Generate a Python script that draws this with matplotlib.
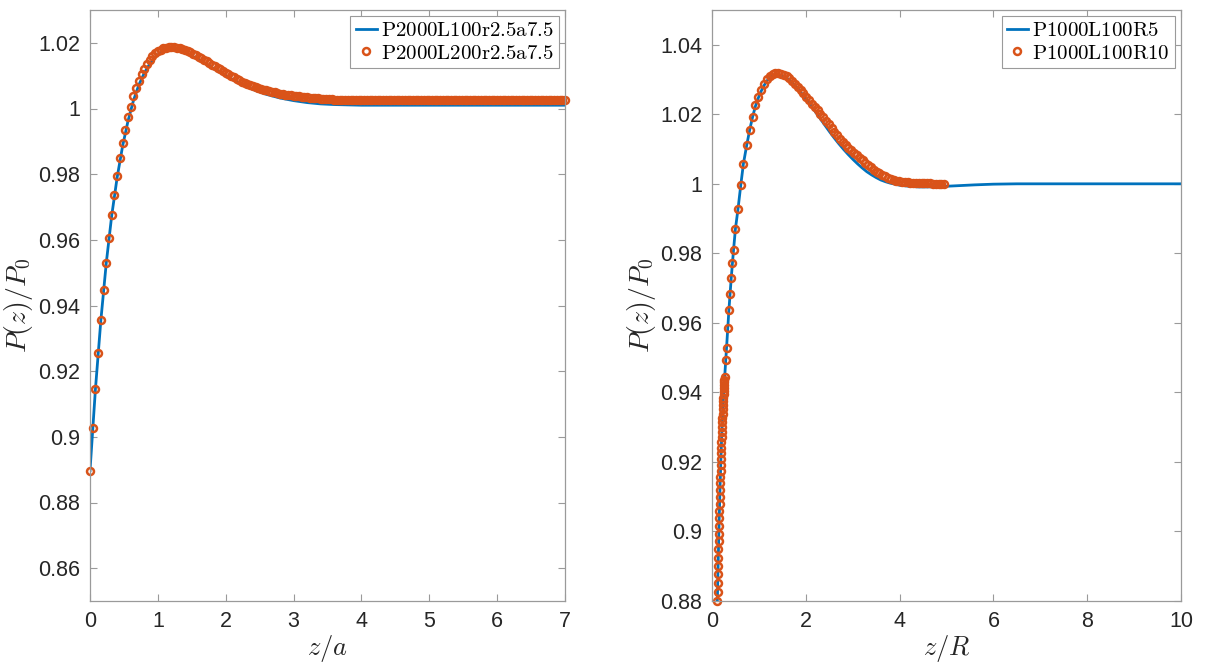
import numpy as np
import matplotlib
matplotlib.use('Agg')
import matplotlib.pyplot as plt
from matplotlib.ticker import FuncFormatter, MultipleLocator

plt.rcParams['font.family'] = ['Liberation Sans', 'DejaVu Sans']
plt.rcParams['mathtext.fontset'] = 'cm'

BLUE = '#0072BD'
ORANGE = '#D95319'
FRAME = '#9a9a9a'
TEXT = '#262626'

# ---- left panel: pressure ratio vs z/a ----
left_line_z = [0.00, 0.08, 0.16, 0.24, 0.32, 0.40, 0.48, 0.56, 0.64, 0.72,
               0.80, 0.88, 0.96, 1.04, 1.12, 1.20, 1.28, 1.36, 1.44, 1.52,
               1.60, 1.70, 1.80, 1.90, 2.00, 2.20, 2.40, 2.60, 2.80, 3.00,
               3.20, 3.40, 3.60, 3.80, 4.00, 5.00, 6.00, 7.00]
left_line_P = [0.8897, 0.9145, 0.9355, 0.9530, 0.9674, 0.9790, 0.9885, 0.9962, 1.0024, 1.0072,
               1.0108, 1.0136, 1.0157, 1.0170, 1.0177, 1.0178, 1.0176, 1.0172, 1.0166, 1.0158,
               1.0149, 1.0137, 1.0124, 1.0112, 1.0100, 1.0077, 1.0058, 1.0043, 1.0032, 1.0024,
               1.0018, 1.0014, 1.0012, 1.0011, 1.0010, 1.0010, 1.0010, 1.0010]

# markers every 0.04 in z/a
left_mk_dz = 0.04
left_mk_P = [0.8897, 0.9028, 0.9145, 0.9255, 0.9355, 0.9446, 0.9530, 0.9606, 0.9676, 0.9738,
             0.9795, 0.9849, 0.9894, 0.9936, 0.9974, 1.0006, 1.0037, 1.0062, 1.0085, 1.0106,
             1.0121, 1.0136, 1.0148, 1.0159, 1.0169,
             1.0175, 1.0179, 1.0183, 1.0185, 1.0186, 1.0186, 1.0186, 1.0185, 1.0183, 1.0181,
             1.0178, 1.0175, 1.0171, 1.0167, 1.0163, 1.0158, 1.0154, 1.0149, 1.0144, 1.0139,
             1.0134, 1.0129, 1.0124, 1.0119, 1.0114, 1.0109, 1.0104, 1.0099, 1.0095, 1.0090,
             1.0086, 1.0082, 1.0078, 1.0074, 1.0071, 1.0068, 1.0065, 1.0062, 1.0059, 1.0057,
             1.0055, 1.0053, 1.0051, 1.0049, 1.0047, 1.0045, 1.0044, 1.0042, 1.0041, 1.0040,
             1.0039, 1.0038, 1.0037, 1.0036, 1.0035, 1.0034, 1.0033, 1.0032, 1.0031, 1.0031,
             1.0030, 1.0029, 1.0029, 1.0028, 1.0028, 1.0027, 1.0027, 1.0027, 1.0026, 1.0026,
             1.0026, 1.0026,
             1.0025, 1.0025, 1.0025, 1.0025, 1.0025, 1.0025, 1.0025, 1.0025, 1.0025, 1.0025,
             1.0025, 1.0025, 1.0025, 1.0025, 1.0025, 1.0025, 1.0025, 1.0025, 1.0025, 1.0025,
             1.0025, 1.0025, 1.0025, 1.0025, 1.0025, 1.0025, 1.0025, 1.0025, 1.0025, 1.0025,
             1.0025, 1.0025, 1.0025, 1.0025, 1.0025, 1.0025, 1.0025, 1.0025, 1.0025, 1.0025,
             1.0025, 1.0025, 1.0025, 1.0025, 1.0025, 1.0025, 1.0025, 1.0025, 1.0025, 1.0025,
             1.0025, 1.0025, 1.0025, 1.0025, 1.0025, 1.0025, 1.0025, 1.0025, 1.0025, 1.0025,
             1.0025, 1.0025, 1.0025, 1.0025, 1.0025, 1.0025, 1.0025, 1.0025, 1.0025, 1.0025,
             1.0025, 1.0025, 1.0025, 1.0025, 1.0025, 1.0025, 1.0025, 1.0025, 1.0025]
left_mk_z = np.arange(len(left_mk_P)) * left_mk_dz

left_labels = [r'$\mathrm{P2000L100r2.5a7.5}$', r'$\mathrm{P2000L200r2.5a7.5}$']

# ---- right panel: pressure ratio vs z/R ----
right_line_z = [0.114, 0.134, 0.154, 0.174, 0.194, 0.214, 0.234, 0.254, 0.270, 0.31,
                0.36, 0.41, 0.46, 0.50, 0.555, 0.615, 0.67, 0.74, 0.805, 0.865,
                0.925, 0.99, 1.05, 1.11, 1.17, 1.23, 1.29, 1.35, 1.40, 1.50,
                1.60, 1.70, 1.80, 1.90, 2.00, 2.10, 2.20, 2.30, 2.40, 2.50,
                2.60, 2.70, 2.80, 2.90, 3.00, 3.10, 3.20, 3.30, 3.40, 3.50,
                3.60, 3.70, 3.80, 3.90, 4.00, 4.20, 4.40, 4.60, 4.80, 5.00,
                5.30, 5.60, 6.00, 6.50, 7.00, 8.00, 9.00, 10.0]
right_line_P = [0.8800, 0.8925, 0.9038, 0.9138, 0.9225, 0.9300, 0.9363, 0.9413, 0.9444, 0.9528,
                0.9636, 0.9729, 0.9811, 0.9871, 0.9928, 0.9998, 1.0058, 1.0111, 1.0156, 1.0192,
                1.0223, 1.0248, 1.0267, 1.0283, 1.0296, 1.0305, 1.0311, 1.0314, 1.0315, 1.0311,
                1.0303, 1.0292, 1.0278, 1.0262, 1.0245, 1.0227, 1.0208, 1.0189, 1.0170, 1.0151,
                1.0133, 1.0116, 1.0100, 1.0085, 1.0071, 1.0058, 1.0046, 1.0035, 1.0026, 1.0018,
                1.0011, 1.0006, 1.0002, 0.9999, 0.9996, 0.9993, 0.9991, 0.9991, 0.9992, 0.9993,
                0.9995, 0.9997, 0.9999, 1.0000, 1.0000, 1.0000, 1.0000, 1.0000]

right_mk_z = [0.114, 0.118, 0.122, 0.126, 0.130, 0.134, 0.138, 0.142, 0.146, 0.150,
              0.154, 0.158, 0.162, 0.166, 0.170, 0.174, 0.178, 0.182, 0.186, 0.190,
              0.194, 0.198, 0.202, 0.206, 0.210, 0.214, 0.218, 0.222, 0.226, 0.230,
              0.234, 0.238, 0.242, 0.246, 0.250, 0.254, 0.258, 0.262, 0.266, 0.270,
              0.29, 0.31, 0.335, 0.36, 0.385, 0.41, 0.435, 0.46, 0.50, 0.555,
              0.615, 0.67, 0.74, 0.805, 0.865, 0.925, 0.99, 1.05, 1.11, 1.17,
              1.23, 1.29, 1.35,
              1.41, 1.47, 1.53, 1.59, 1.65, 1.71, 1.77, 1.83, 1.89, 1.95,
              2.01, 2.07, 2.13, 2.19, 2.25, 2.31, 2.37, 2.43, 2.49, 2.55,
              2.61, 2.67, 2.73, 2.79, 2.85, 2.91, 2.97, 3.03, 3.09, 3.15,
              3.21, 3.27, 3.33, 3.39, 3.45, 3.51, 3.57, 3.63, 3.69, 3.75,
              3.81, 3.87, 3.93, 3.99, 4.05, 4.11, 4.17, 4.23, 4.29, 4.35,
              4.41, 4.47, 4.53, 4.59, 4.65, 4.71, 4.77, 4.83, 4.89, 4.95]
right_mk_P = [0.8800, 0.8826, 0.8852, 0.8877, 0.8901, 0.8925, 0.8949, 0.8972, 0.8994, 0.9016,
              0.9038, 0.9059, 0.9079, 0.9099, 0.9119, 0.9138, 0.9156, 0.9174, 0.9192, 0.9209,
              0.9225, 0.9241, 0.9257, 0.9272, 0.9286, 0.9300, 0.9314, 0.9327, 0.9339, 0.9351,
              0.9363, 0.9374, 0.9384, 0.9394, 0.9404, 0.9413, 0.9421, 0.9429, 0.9437, 0.9444,
              0.9492, 0.9528, 0.9585, 0.9636, 0.9684, 0.9729, 0.9771, 0.9811, 0.9871, 0.9928,
              0.9998, 1.0058, 1.0111, 1.0156, 1.0193, 1.0226, 1.0251, 1.0271, 1.0288, 1.0301,
              1.0310, 1.0315, 1.0318,
              1.0319, 1.0317, 1.0314, 1.0310, 1.0303, 1.0295, 1.0287, 1.0278, 1.0269, 1.0260,
              1.0250, 1.0240, 1.0231, 1.0221, 1.0211, 1.0201, 1.0191, 1.0181, 1.0171, 1.0161,
              1.0150, 1.0140, 1.0130, 1.0121, 1.0113, 1.0104, 1.0097, 1.0089, 1.0082, 1.0075,
              1.0068, 1.0060, 1.0053, 1.0047, 1.0040, 1.0035, 1.0030, 1.0026, 1.0022, 1.0018,
              1.0014, 1.0011, 1.0009, 1.0007, 1.0006, 1.0005, 1.0004, 1.0003, 1.0002, 1.0002,
              1.0002, 1.0001, 1.0001, 1.0001, 1.0001, 1.0000, 1.0000, 1.0000, 1.0000, 1.0000]

right_labels = [r'$\mathrm{P1000L100R5}$', r'$\mathrm{P1000L100R10}$']


def style_axes(ax, xlim, ylim, xstep, ystep, xlabel):
    ax.set_xlim(*xlim)
    ax.set_ylim(*ylim)
    ax.xaxis.set_major_locator(MultipleLocator(xstep))
    ax.yaxis.set_major_locator(MultipleLocator(ystep))
    ax.yaxis.set_major_formatter(FuncFormatter(lambda v, p: f'{round(v, 4):g}'))
    ax.xaxis.set_major_formatter(FuncFormatter(lambda v, p: f'{round(v, 4):g}'))
    for s in ax.spines.values():
        s.set_color(FRAME)
        s.set_linewidth(0.9)
    ax.tick_params(direction='in', length=5, width=0.8, color=FRAME,
                   labelcolor=TEXT, labelsize=15.5, top=True, right=True, pad=7)
    ax.set_xlabel(xlabel, fontsize=19, color=TEXT, labelpad=1)
    ax.set_ylabel(r'$P(z)/P_0$', fontsize=20, color=TEXT, labelpad=2)


def draw_panel(ax, lz, lp, mz, mp, labels):
    ax.plot(lz, lp, color=BLUE, lw=2.0, label=labels[0])
    ax.plot(mz, mp, ls='none', marker='o', ms=5.0, mfc='none', mec=ORANGE,
            mew=1.8, label=labels[1], clip_on=False)
    leg = ax.legend(loc='upper right', fontsize=15, frameon=True, fancybox=False,
                    framealpha=1, edgecolor=FRAME, numpoints=1, handlelength=1.0,
                    handletextpad=0.2, labelspacing=0.15, borderpad=0.25,
                    borderaxespad=0.3)
    leg.get_frame().set_linewidth(0.8)


fig = plt.figure(figsize=(12.09, 6.65), dpi=100)
ax1 = fig.add_axes([90 / 1209, 64 / 665, 475 / 1209, 591 / 665])
ax2 = fig.add_axes([712 / 1209, 64 / 665, 469 / 1209, 591 / 665])

draw_panel(ax1, left_line_z, left_line_P, left_mk_z, left_mk_P, left_labels)
style_axes(ax1, (0, 7), (0.85, 1.03), 1, 0.02, r'$z/a$')

draw_panel(ax2, right_line_z, right_line_P, right_mk_z, right_mk_P, right_labels)
style_axes(ax2, (0, 10), (0.88, 1.05), 2, 0.02, r'$z/R$')

fig.savefig('out.png', dpi=100, facecolor='white')
